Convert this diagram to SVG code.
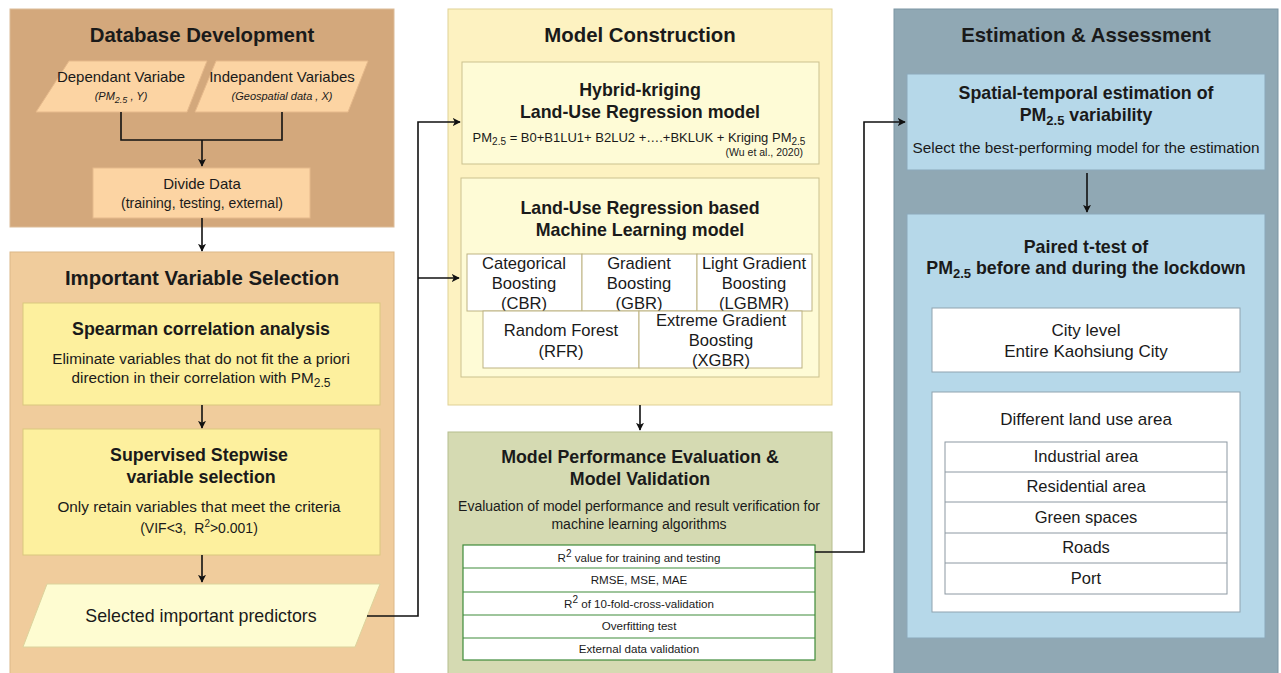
<svg xmlns="http://www.w3.org/2000/svg" width="1281" height="673" viewBox="0 0 1281 673">
  <defs>
    <marker id="arrow" viewBox="0 0 10 10" refX="9" refY="5" markerWidth="8" markerHeight="8" markerUnits="userSpaceOnUse" orient="auto">
      <path d="M0,0 L10,5 L0,10 L2.5,5 Z" fill="#111"/>
    </marker>
    <style>
      text { font-family: "Liberation Sans", Arial, sans-serif; fill: #1a1a1a; text-anchor: middle; }
      .h1 { font-size: 20.4px; font-weight: bold; }
      .h2 { font-size: 17.8px; font-weight: bold; }
      .body { font-size: 15.3px; }
      .cell { font-size: 16.6px; }
      .area { font-size: 17px; }
      .row { font-size: 16.5px; }
      .metric { font-size: 11.6px; }
      .small { font-size: 11px; }
      .conn { fill: none; stroke: #111; stroke-width: 1.6; }
    </style>
  </defs>

  <rect width="1281" height="673" fill="#ffffff"/>

  <!-- Database Development -->
  <g id="database-development">
    <rect x="10" y="9" width="384" height="218" fill="#d3a87c" stroke="#dcbc98" stroke-width="1"/>
    <text class="h1" x="202" y="42">Database Development</text>
  </g>
  <g id="dependent-variable">
    <polygon points="69,61 207,61 187,112 36,112" fill="#fcd4a3" stroke="#e6b98b"/>
    <text x="121" y="82" font-size="15">Dependant Variabe</text>
    <text class="small" x="121" y="100" font-style="italic">(PM<tspan dy="3" font-size="9">2.5</tspan><tspan dy="-3"> , Y)</tspan></text>
  </g>
  <g id="independent-variables">
    <polygon points="216,61 368,61 348,112 195,112" fill="#fcd4a3" stroke="#e6b98b"/>
    <text x="282" y="82" font-size="15">Indepandent Variabes</text>
    <text class="small" x="282" y="100" font-style="italic">(Geospatial data , X)</text>
  </g>
  <g id="divide-data">
    <rect x="93" y="168" width="217" height="50" fill="#fcd4a3" stroke="#e6b98b"/>
    <text x="202" y="189" font-size="15">Divide Data</text>
    <text x="202" y="208" font-size="14">(training, testing, external)</text>
  </g>

  <!-- Important Variable Selection -->
  <g id="important-variable-selection">
    <rect x="10" y="252" width="384" height="430" fill="#f0cc9c" stroke="#dcb888" stroke-width="1"/>
    <text class="h1" x="202" y="285">Important Variable Selection</text>
  </g>
  <g id="spearman">
    <rect x="23" y="303" width="357" height="102" fill="#fdf09e" stroke="#d9c77e"/>
    <text class="h2" x="201" y="335">Spearman correlation analysis</text>
    <text class="body" x="201" y="364">Eliminate variables that do not fit the a priori</text>
    <text class="body" x="201" y="383">direction in their correlation with PM<tspan dy="4" font-size="12">2.5</tspan></text>
  </g>
  <g id="stepwise">
    <rect x="23" y="429" width="357" height="126" fill="#fdf09e" stroke="#d9c77e"/>
    <text class="h2" x="199" y="461">Supervised Stepwise</text>
    <text class="h2" x="201" y="483">variable selection</text>
    <text class="body" x="199" y="512">Only retain variables that meet the criteria</text>
    <text x="199" y="533" font-size="14" xml:space="preserve">(VIF&lt;3,  R<tspan dy="-6" font-size="10">2</tspan><tspan dy="6">&gt;0.001)</tspan></text>
  </g>
  <g id="selected-predictors">
    <polygon points="47,584 380,584 355,647 23,647" fill="#fefcd1" stroke="#dcd39c"/>
    <text x="201" y="622" font-size="17.8">Selected important predictors</text>
  </g>

  <!-- Model Construction -->
  <g id="model-construction">
    <rect x="448" y="9" width="384" height="396" fill="#fdf2c1" stroke="#dfd195" stroke-width="1"/>
    <text class="h1" x="640" y="42">Model Construction</text>
  </g>
  <g id="hybrid-kriging">
    <rect x="462" y="62" width="357" height="102" fill="#fefbd6" stroke="#cbc18f"/>
    <text class="h2" x="640" y="96">Hybrid-kriging</text>
    <text class="h2" x="640" y="118">Land-Use Regression model</text>
    <text x="639" y="142" font-size="13">PM<tspan dy="3" font-size="10">2.5</tspan><tspan dy="-3"> = B0+B1LU1+ B2LU2 +….+BKLUK + Kriging PM</tspan><tspan dy="3" font-size="10">2.5</tspan></text>
    <text x="803" y="156" font-size="10.5" style="text-anchor:end">(Wu et al., 2020)</text>
  </g>
  <g id="ml-models">
    <rect x="461" y="178" width="358" height="199" fill="#fefbd6" stroke="#cbc18f"/>
    <text class="h2" x="640" y="214">Land-Use Regression based</text>
    <text class="h2" x="640" y="236">Machine Learning model</text>
  </g>
  <g id="cbr">
    <rect x="467" y="254" width="115" height="57" fill="#ffffff" stroke="#bdb382"/>
    <text class="cell" x="524" y="269">Categorical</text>
    <text class="cell" x="524" y="289">Boosting</text>
    <text class="cell" x="524" y="309">(CBR)</text>
  </g>
  <g id="gbr">
    <rect x="582" y="254" width="115" height="57" fill="#ffffff" stroke="#bdb382"/>
    <text class="cell" x="639" y="269">Gradient</text>
    <text class="cell" x="639" y="289">Boosting</text>
    <text class="cell" x="639" y="309">(GBR)</text>
  </g>
  <g id="lgbmr">
    <rect x="697" y="254" width="115" height="57" fill="#ffffff" stroke="#bdb382"/>
    <text class="cell" x="754" y="269">Light Gradient</text>
    <text class="cell" x="754" y="289">Boosting</text>
    <text class="cell" x="754" y="309">(LGBMR)</text>
  </g>
  <g id="rfr">
    <rect x="483" y="311" width="156" height="57" fill="#ffffff" stroke="#bdb382"/>
    <text class="cell" x="561" y="336">Random Forest</text>
    <text class="cell" x="561" y="357">(RFR)</text>
  </g>
  <g id="xgbr">
    <rect x="639" y="311" width="163" height="57" fill="#ffffff" stroke="#bdb382"/>
    <text class="cell" x="721" y="326">Extreme Gradient</text>
    <text class="cell" x="721" y="346">Boosting</text>
    <text class="cell" x="721" y="366">(XGBR)</text>
  </g>

  <!-- Model Performance Evaluation -->
  <g id="performance-evaluation">
    <rect x="448" y="432" width="384" height="250" fill="#d5dab2" stroke="#b6bd8e" stroke-width="1"/>
    <text class="h2" x="640" y="463">Model Performance Evaluation &amp;</text>
    <text class="h2" x="640" y="485">Model Validation</text>
    <text x="639" y="511" font-size="14">Evaluation of model performance and result verification for</text>
    <text x="639" y="529" font-size="14">machine learning algorithms</text>
  </g>
  <g id="metrics">
    <rect x="463" y="545" width="352" height="115" fill="#ffffff" stroke="#3f8b3a" stroke-width="1.2"/>
    <line x1="463" y1="568" x2="815" y2="568" stroke="#3f8b3a" stroke-width="1.2"/>
    <line x1="463" y1="592" x2="815" y2="592" stroke="#3f8b3a" stroke-width="1.2"/>
    <line x1="463" y1="615" x2="815" y2="615" stroke="#3f8b3a" stroke-width="1.2"/>
    <line x1="463" y1="638" x2="815" y2="638" stroke="#3f8b3a" stroke-width="1.2"/>
    <text class="metric" x="639" y="562">R<tspan dy="-5" font-size="10">2</tspan><tspan dy="5"> value for training and testing</tspan></text>
    <text class="metric" x="639" y="584">RMSE, MSE, MAE</text>
    <text class="metric" x="639" y="608">R<tspan dy="-5" font-size="10">2</tspan><tspan dy="5"> of 10-fold-cross-validation</tspan></text>
    <text class="metric" x="639" y="630">Overfitting test</text>
    <text class="metric" x="639" y="653">External data validation</text>
  </g>

  <!-- Estimation & Assessment -->
  <g id="estimation-assessment">
    <rect x="894" y="9" width="384" height="673" fill="#90a8b4" stroke="#7c95a3" stroke-width="1"/>
    <text class="h1" x="1086" y="42">Estimation &amp; Assessment</text>
  </g>
  <g id="spatial-temporal">
    <rect x="907" y="74" width="358" height="96" fill="#b6d8e9" stroke="#8ba8b9"/>
    <text class="h2" x="1086" y="99">Spatial-temporal estimation of</text>
    <text class="h2" x="1086" y="121">PM<tspan dy="4" font-size="13">2.5</tspan><tspan dy="-4"> variability</tspan></text>
    <text x="1086" y="153" font-size="15.3">Select the best-performing model for the estimation</text>
  </g>
  <g id="paired-t-test">
    <rect x="907" y="214" width="358" height="424" fill="#b6d8e9" stroke="#8ba8b9"/>
    <text class="h2" x="1086" y="253">Paired t-test of</text>
    <text class="h2" x="1086" y="274">PM<tspan dy="4" font-size="13">2.5</tspan><tspan dy="-4"> before and during the lockdown</tspan></text>
  </g>
  <g id="city-level">
    <rect x="932" y="308" width="308" height="64" fill="#ffffff" stroke="#8fa3b0"/>
    <text class="area" x="1086" y="336">City level</text>
    <text class="area" x="1086" y="357">Entire Kaohsiung City</text>
  </g>
  <g id="land-use-areas">
    <rect x="932" y="392" width="308" height="220" fill="#ffffff" stroke="#8fa3b0"/>
    <text class="area" x="1086" y="425">Different land use area</text>
    <rect x="945" y="442" width="282" height="152" fill="#ffffff" stroke="#8c98a2"/>
    <line x1="945" y1="472" x2="1227" y2="472" stroke="#8c98a2"/>
    <line x1="945" y1="502" x2="1227" y2="502" stroke="#8c98a2"/>
    <line x1="945" y1="533" x2="1227" y2="533" stroke="#8c98a2"/>
    <line x1="945" y1="563" x2="1227" y2="563" stroke="#8c98a2"/>
    <text class="row" x="1086" y="462">Industrial area</text>
    <text class="row" x="1086" y="492">Residential area</text>
    <text class="row" x="1086" y="523">Green spaces</text>
    <text class="row" x="1086" y="553">Roads</text>
    <text class="row" x="1086" y="584">Port</text>
  </g>

  <!-- Connectors -->
  <g id="connectors">
    <path class="conn" d="M121,112 V140 H282 V112"/>
    <path class="conn" d="M202,140 V166" marker-end="url(#arrow)"/>
    <path class="conn" d="M202,218 V251" marker-end="url(#arrow)"/>
    <path class="conn" d="M202,405 V428" marker-end="url(#arrow)"/>
    <path class="conn" d="M202,555 V582" marker-end="url(#arrow)"/>
    <path class="conn" d="M367,616 H418 V122 H460" marker-end="url(#arrow)"/>
    <path class="conn" d="M418,278 H459" marker-end="url(#arrow)"/>
    <path class="conn" d="M640,405 V430" marker-end="url(#arrow)"/>
    <path class="conn" d="M815,552 H864 V122 H905" marker-end="url(#arrow)"/>
    <path class="conn" d="M1087,173 V212" marker-end="url(#arrow)"/>
  </g>
</svg>
